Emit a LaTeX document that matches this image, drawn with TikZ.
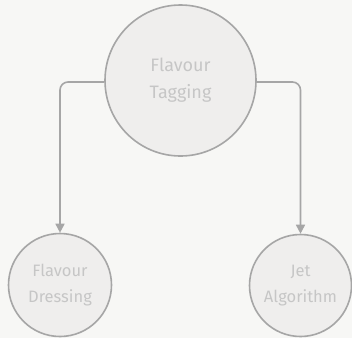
\documentclass[tikz,border=0pt]{standalone}
\usepackage{fontspec}
\setmainfont{Fira Sans}[FontFace={l}{n}{Font=* Light}]
\usetikzlibrary{arrows.meta}
\definecolor{bgc}{HTML}{F7F7F5}
\definecolor{fillc}{HTML}{EFEEED}
\definecolor{linec}{HTML}{A6A6A6}
\definecolor{textc}{HTML}{C6C6C6}
\tikzset{
  bubble/.style={circle, draw=linec, fill=fillc, line width=1.6pt, text=textc,
    align=center, inner sep=0pt},
  link/.style={draw=linec, line width=1.6pt, rounded corners=8pt,
    -{Stealth[length=9pt,width=9pt,inset=0pt]}},
}
\begin{document}
\begin{tikzpicture}[x=1pt,y=-1pt]
  \fill[bgc] (0,0) rectangle (352,338);
  \useasboundingbox (0,0) rectangle (352,338);
  \node[bubble, minimum size=151pt, font=\fontsize{18}{27}\selectfont] (tag) at (180.5,80.5) {Flavour\\Tagging};
  \node[bubble, minimum size=103pt, font=\fontsize{16.5}{26}\selectfont] (dress) at (60,285) {Flavour\\Dressing};
  \node[bubble, minimum size=102pt, font=\fontsize{16.5}{26}\selectfont] (jet) at (300.5,285.5) {Jet\\Algorithm};
  \draw[link] (tag.west |- 0,82) -| (dress.north);
  \draw[link] (tag.east |- 0,82) -| (jet.north);
\end{tikzpicture}
\end{document}
